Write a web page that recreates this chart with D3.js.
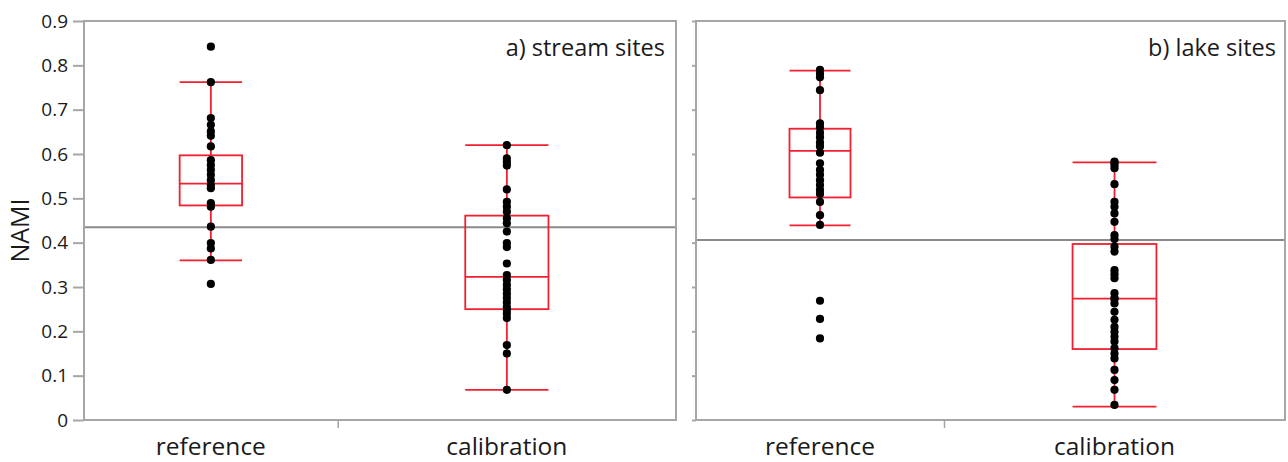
<!DOCTYPE html>
<html>
<head>
<meta charset="utf-8">
<script src="https://cdn.jsdelivr.net/npm/d3@7"></script>
<style>
  html, body { margin: 0; padding: 0; background: #fff; }
  svg { display: block; }
  text { font-family: "Open Sans", "Noto Sans", sans-serif; fill: #1a1a1a; }
</style>
</head>
<body>
<svg id="chart" width="1288" height="462"></svg>
<script>
// ---------- data ----------
const categories = ["reference", "calibration"];
const panelTitles = ["a) stream sites", "b) lake sites"];
const yTicks = [0, 0.1, 0.2, 0.3, 0.4, 0.5, 0.6, 0.7, 0.8, 0.9];
const yLabel = "NAMI";

const streamReference = [0.842, 0.762, 0.681, 0.666, 0.651, 0.641, 0.617, 0.586, 0.575, 0.564, 0.553,
  0.541, 0.530, 0.523, 0.489, 0.481, 0.436, 0.399, 0.387, 0.361, 0.307];
const streamCalibration = [0.620, 0.590, 0.582, 0.574, 0.520, 0.492, 0.481, 0.470, 0.455, 0.444, 0.425,
  0.399, 0.390, 0.353, 0.327, 0.316, 0.305, 0.295, 0.285, 0.275, 0.265, 0.255, 0.248, 0.240, 0.230,
  0.169, 0.150, 0.068];
const lakeReference = [0.790, 0.781, 0.773, 0.744, 0.669, 0.660, 0.648, 0.638, 0.626, 0.617, 0.603,
  0.579, 0.564, 0.553, 0.541, 0.530, 0.519, 0.510, 0.492, 0.462, 0.440, 0.269, 0.228, 0.184];
const lakeCalibration = [0.583, 0.580, 0.575, 0.568, 0.532, 0.492, 0.481, 0.466, 0.447, 0.417, 0.408,
  0.391, 0.380, 0.338, 0.329, 0.320, 0.286, 0.275, 0.273, 0.263, 0.244, 0.226, 0.210, 0.199, 0.188,
  0.177, 0.162, 0.150, 0.139, 0.113, 0.090, 0.068, 0.034];

// box statistics: [reference, calibration]
const streamLow = [0.360, 0.068];
const streamQ1 = [0.484, 0.250];
const streamMedian = [0.533, 0.323];
const streamQ3 = [0.597, 0.461];
const streamHigh = [0.762, 0.620];
const lakeLow = [0.439, 0.030];
const lakeQ1 = [0.502, 0.160];
const lakeMedian = [0.607, 0.274];
const lakeQ3 = [0.657, 0.397];
const lakeHigh = [0.788, 0.581];

// overall mean line per panel
const grandMean = [0.435, 0.406];

// ---------- drawing ----------
const svg = d3.select("#chart");
const plotTop = 21, plotBottom = 420;
const panelX = [[84, 676], [696, 1285]];
const frameColor = "#a6a6a6";
const red = "#f02030";

const y = d3.scaleLinear().domain([0, 0.9]).range([plotBottom, plotTop]);

const panels = [
  { title: panelTitles[0], groups: [streamReference, streamCalibration],
    low: streamLow, q1: streamQ1, med: streamMedian, q3: streamQ3, high: streamHigh, mean: grandMean[0], labels: true },
  { title: panelTitles[1], groups: [lakeReference, lakeCalibration],
    low: lakeLow, q1: lakeQ1, med: lakeMedian, q3: lakeQ3, high: lakeHigh, mean: grandMean[1], labels: false }
];

panels.forEach((p, pi) => {
  const [x0, x1] = panelX[pi];
  const counts = p.groups.map(g => g.length);
  const total = d3.sum(counts);
  const x = d3.scaleLinear().domain([0, total]).range([x0, x1]);
  const cum = [0, counts[0], total];

  const g = svg.append("g");

  // y axis
  const yAxis = d3.axisLeft(y).tickValues(yTicks)
    .tickSize(p.labels ? 11 : 4)
    .tickFormat(p.labels ? d3.format("") : () => "");
  const ya = g.append("g").attr("transform", `translate(${x0},0)`).call(yAxis);
  ya.select(".domain").remove();
  ya.selectAll(".tick line").attr("stroke", frameColor).attr("stroke-width", 2);
  ya.selectAll(".tick text").attr("font-size", 19).attr("x", -16).attr("fill", "#1a1a1a")
    .attr("font-family", "'Open Sans', sans-serif");

  // x axis: separator ticks between groups, labels at group centres
  const xa = d3.axisBottom(x).tickValues([counts[0]]).tickSize(8).tickFormat("");
  const xg = g.append("g").attr("transform", `translate(0,${plotBottom})`).call(xa);
  xg.select(".domain").remove();
  xg.selectAll(".tick line").attr("stroke", frameColor).attr("stroke-width", 1.5);

  categories.forEach((c, ci) => {
    g.append("text")
      .attr("x", x(cum[ci] + counts[ci] / 2))
      .attr("y", 455)
      .attr("text-anchor", "middle")
      .attr("font-size", 24.5)
      .text(c);
  });

  // mean line
  g.append("line")
    .attr("x1", x0).attr("x2", x1)
    .attr("y1", y(p.mean)).attr("y2", y(p.mean))
    .attr("stroke", "#8a8a8a").attr("stroke-width", 2);

  // boxes
  p.groups.forEach((vals, ci) => {
    const cx = x(cum[ci] + counts[ci] / 2);
    const hw = (x(counts[ci]) - x(0)) * 0.123;
    const bg = g.append("g").attr("stroke", red).attr("stroke-width", 1.8).attr("fill", "none");
    bg.append("line").attr("x1", cx).attr("x2", cx).attr("y1", y(p.low[ci])).attr("y2", y(p.q1[ci]));
    bg.append("line").attr("x1", cx).attr("x2", cx).attr("y1", y(p.q3[ci])).attr("y2", y(p.high[ci]));
    bg.append("line").attr("x1", cx - hw).attr("x2", cx + hw).attr("y1", y(p.low[ci])).attr("y2", y(p.low[ci]));
    bg.append("line").attr("x1", cx - hw).attr("x2", cx + hw).attr("y1", y(p.high[ci])).attr("y2", y(p.high[ci]));
    bg.append("rect").attr("x", cx - hw).attr("width", 2 * hw)
      .attr("y", y(p.q3[ci])).attr("height", y(p.q1[ci]) - y(p.q3[ci]));
    bg.append("line").attr("x1", cx - hw).attr("x2", cx + hw).attr("y1", y(p.med[ci])).attr("y2", y(p.med[ci]));

    g.append("g").selectAll("circle").data(vals).join("circle")
      .attr("cx", cx).attr("cy", d => y(d)).attr("r", 4.1).attr("fill", "#000");
  });

  // frame
  g.append("rect").attr("x", x0).attr("y", plotTop).attr("width", x1 - x0).attr("height", plotBottom - plotTop)
    .attr("fill", "none").attr("stroke", frameColor).attr("stroke-width", 2);

  // panel title
  g.append("text")
    .attr("x", pi === 0 ? 665 : 1276)
    .attr("y", 56)
    .attr("text-anchor", "end")
    .attr("font-size", 23.5)
    .text(p.title);
});

// y label
svg.append("text")
  .attr("transform", `translate(29,${(plotTop + plotBottom) / 2 + 10}) rotate(-90)`)
  .attr("text-anchor", "middle")
  .attr("font-size", 25)
  .text(yLabel);
</script>
</body>
</html>
